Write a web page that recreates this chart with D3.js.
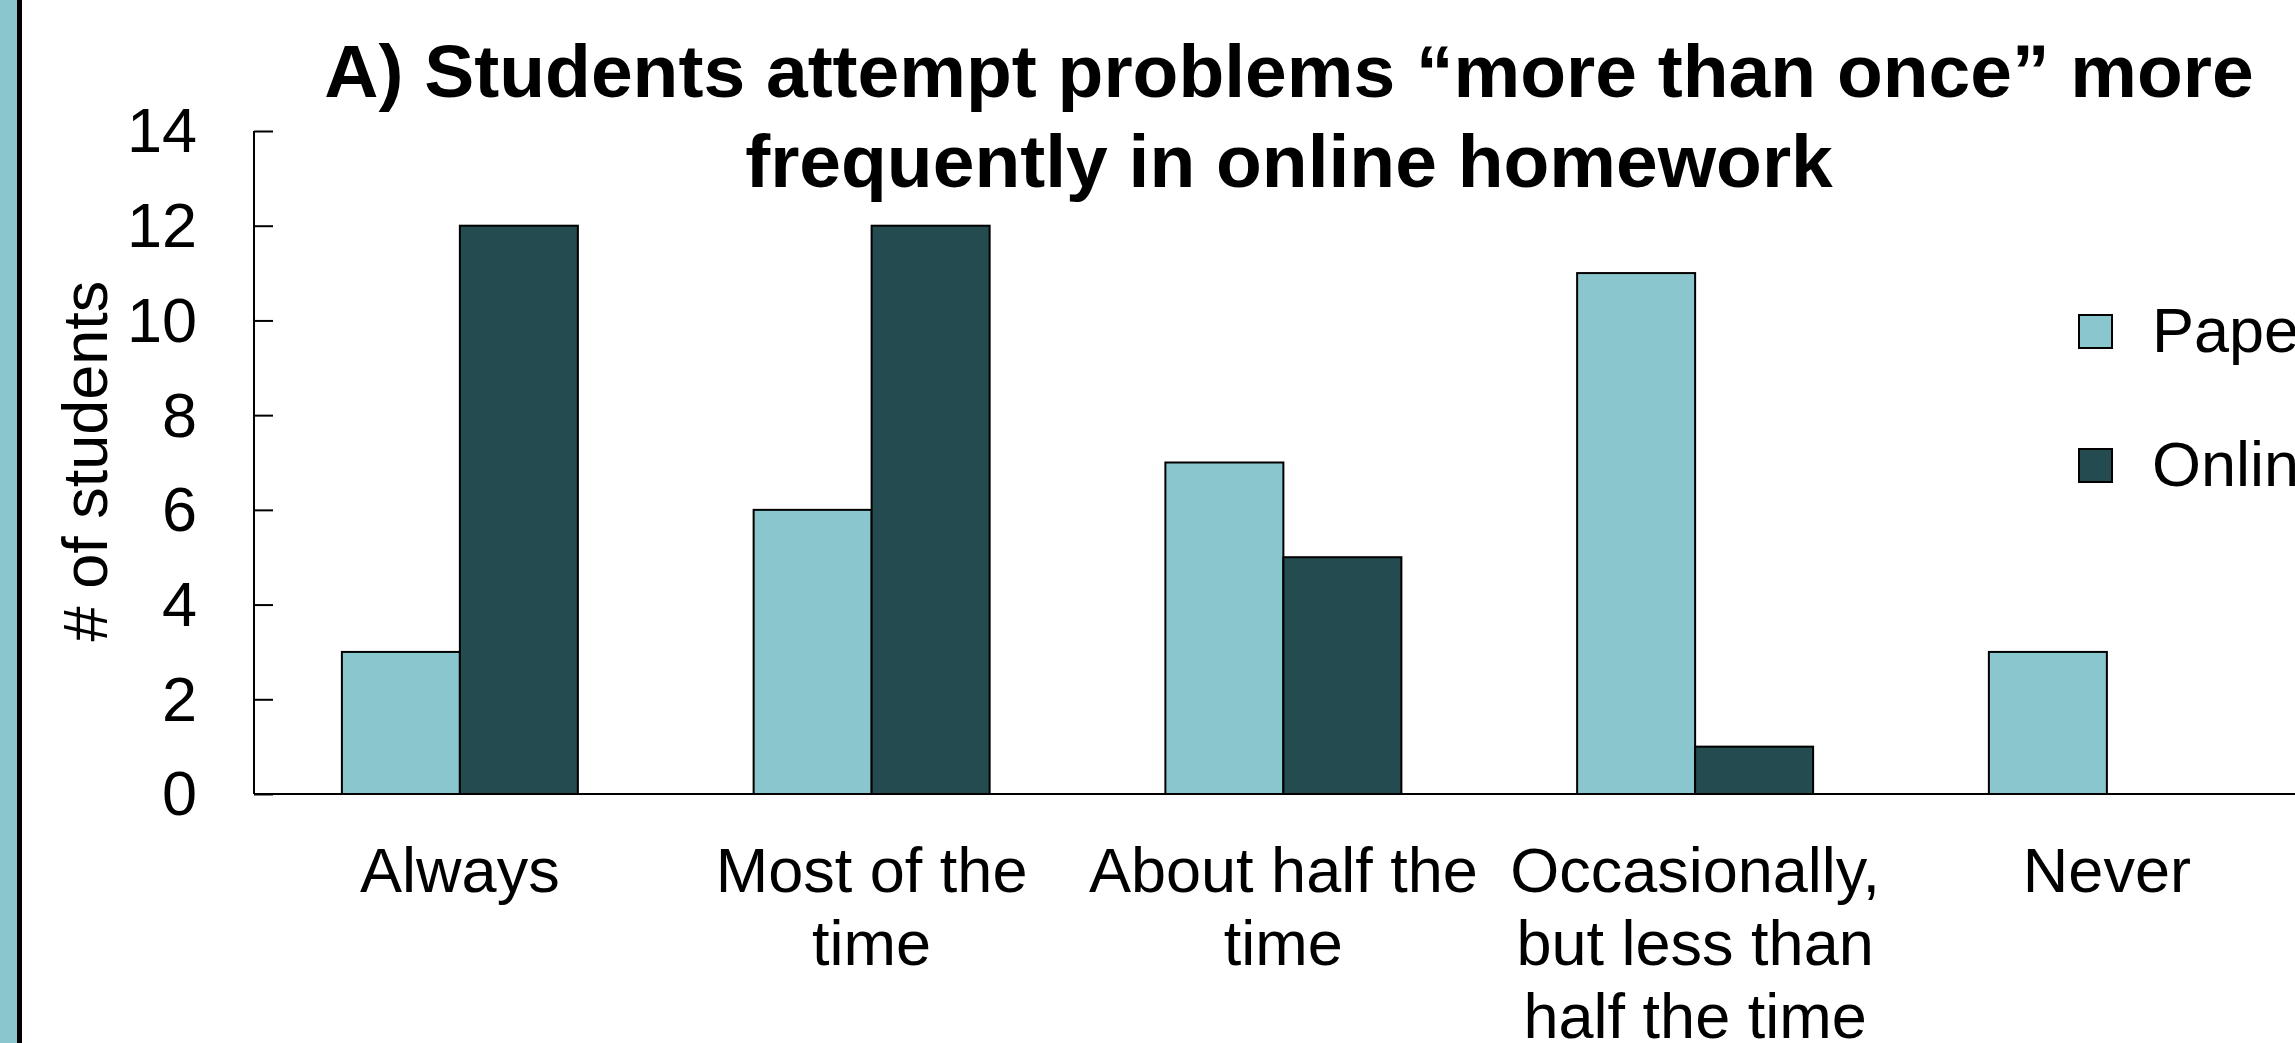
<!DOCTYPE html>
<html>
<head>
<meta charset="utf-8">
<script src="https://cdn.jsdelivr.net/npm/d3@7"></script>
<style>
  html, body { margin: 0; padding: 0; background: #fff; overflow: hidden; }
  svg { display: block; font-family: "Liberation Sans", Arial, sans-serif; }
</style>
</head>
<body>
<svg id="chart" width="2295" height="1043"></svg>
<script>
// ---- data ----
const categories = [
  ["Always"],
  ["Most of the", "time"],
  ["About half the", "time"],
  ["Occasionally,", "but less than", "half the time"],
  ["Never"]
];
const categoryKeys = ["Always", "Most of the time", "About half the time", "Occasionally, but less than half the time", "Never"];
const seriesNames = ["Paper", "Online"];
const paperValues = [3, 6, 7, 11, 3];
const onlineValues = [12, 12, 5, 1, 0];
const yTicks = [0, 2, 4, 6, 8, 10, 12, 14];
const titleLines = ["A) Students attempt problems \u201cmore than once\u201d more", "frequently in online homework"];
const yLabel = "# of students";
const colors = ["#8AC6CE", "#234B50"];

// ---- layout ----
const W = 2295, H = 1043;
const plot = { left: 254, top: 131, bottom: 794, step: 411.75 };
const svg = d3.select("#chart");

// left decorative band
svg.append("rect").attr("x", 0).attr("y", 0).attr("width", 17).attr("height", H).attr("fill", "#8AC6CE");
svg.append("rect").attr("x", 17).attr("y", 0).attr("width", 5).attr("height", H).attr("fill", "#000");

const x0 = d3.scaleBand().domain(categoryKeys)
  .range([plot.left, plot.left + plot.step * categoryKeys.length]).padding(0);
const groupW = 236;
const x1 = d3.scaleBand().domain(seriesNames)
  .range([(x0.bandwidth() - groupW) / 2, (x0.bandwidth() + groupW) / 2]).padding(0);
const y = d3.scaleLinear().domain([0, 14]).range([plot.bottom, plot.top]);

const rows = categoryKeys.map((k, i) => ({ key: k, values: [paperValues[i], onlineValues[i]] }));

// bars
const g = svg.append("g");
g.selectAll("g.cat").data(rows).join("g").attr("class", "cat")
  .attr("transform", d => `translate(${x0(d.key)},0)`)
  .selectAll("rect").data(d => d.values.map((v, j) => ({ s: seriesNames[j], v, j })))
  .join("rect")
  .filter(d => d.v > 0)
  .attr("x", d => x1(d.s))
  .attr("y", d => y(d.v))
  .attr("width", x1.bandwidth())
  .attr("height", d => y(0) - y(d.v))
  .attr("fill", d => colors[d.j])
  .attr("stroke", "#000")
  .attr("stroke-width", 2);

// y axis
const yAxis = d3.axisRight(y).tickValues(yTicks).tickSize(19).tickFormat("");
const ya = svg.append("g").attr("transform", `translate(${plot.left},0)`).call(yAxis);
ya.select(".domain").attr("stroke", "#000").attr("stroke-width", 2).attr("d", `M0,${plot.top}V${plot.bottom}`);
ya.selectAll(".tick line").attr("stroke", "#000").attr("stroke-width", 2);
svg.append("g").selectAll("text").data(yTicks).join("text")
  .attr("x", 197).attr("y", d => y(d)).attr("dy", "0.34em")
  .attr("text-anchor", "end").attr("font-size", 63).attr("fill", "#000")
  .text(d => d);

// x axis line
svg.append("line").attr("x1", plot.left).attr("x2", W).attr("y1", y(0)).attr("y2", y(0))
  .attr("stroke", "#000").attr("stroke-width", 2);

// category labels
svg.append("g").selectAll("text").data(categories).join("text")
  .attr("text-anchor", "middle").attr("font-size", 63).attr("fill", "#000")
  .attr("transform", (d, i) => `translate(${x0(categoryKeys[i]) + x0.bandwidth() / 2},892)`)
  .selectAll("tspan").data(d => d).join("tspan")
  .attr("x", 0).attr("y", (d, i) => i * 73).text(d => d);

// y label
svg.append("text").attr("transform", "translate(107,461) rotate(-90)")
  .attr("text-anchor", "middle").attr("font-size", 63).attr("fill", "#000").text(yLabel);

// title
svg.append("text").attr("text-anchor", "middle").attr("font-size", 75).attr("font-weight", "bold")
  .attr("fill", "#000")
  .selectAll("tspan").data(titleLines).join("tspan")
  .attr("x", 1289).attr("y", (d, i) => 97 + i * 90).text(d => d);

// legend
const leg = svg.append("g").selectAll("g").data(seriesNames).join("g")
  .attr("transform", (d, i) => `translate(2079,${315 + i * 134})`);
leg.append("rect").attr("width", 33).attr("height", 33)
  .attr("fill", (d, i) => colors[i]).attr("stroke", "#000").attr("stroke-width", 2);
leg.append("text").attr("x", 73).attr("y", 37).attr("font-size", 63).attr("fill", "#000").text(d => d);
</script>
</body>
</html>
